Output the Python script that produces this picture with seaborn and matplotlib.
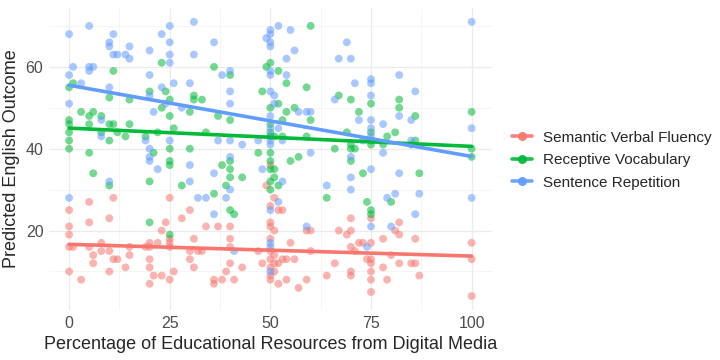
import matplotlib
matplotlib.use("Agg")
import matplotlib.pyplot as plt
from matplotlib.lines import Line2D
from matplotlib.ticker import MultipleLocator
import seaborn as sns
import pandas as pd

# points: (digital media %, predicted outcome)
svf_x = [11, 0, 5, 5, 10, 0, 0, 0, 1, 5, 8, 8, 6, 6, 10, 10, 11, 12, 15, 15, 14, 0, 3,
         20, 20, 19, 22, 20, 20, 20, 21, 23, 25, 24, 23, 25, 25, 25, 28, 30, 30, 30, 31, 32, 31, 26, 25,
         49, 50, 51, 50, 52, 53, 34, 37, 40, 50, 50, 51, 59, 60, 67, 40, 50, 55, 40, 33, 47, 50, 51, 60,
         50, 50, 51, 52, 53, 54, 56, 40, 43, 48, 39, 51, 36, 36, 38, 41, 50, 50, 52, 54, 57, 59, 66, 64,
         70, 75, 82, 70, 69, 81, 82, 78, 86, 100, 72, 73, 75, 70, 71, 80, 74, 75, 75, 78, 82, 85, 86,
         100, 70, 70, 75, 87, 75, 79, 75, 100]
svf_y = [28, 25, 27, 22, 23, 21, 19, 16, 16, 16, 17, 15, 14, 12, 15, 10, 13, 13, 16, 14, 11, 10, 8,
         17, 16, 16, 17, 13, 11, 7, 9, 9, 28, 22, 20, 18, 17, 16, 23, 25, 15, 13, 18, 15, 11, 10, 8,
         31, 36, 28, 26, 25, 25, 21, 21, 21, 22, 21, 20, 20, 20, 20, 18, 18, 17, 16, 15, 15, 15, 14, 15,
         13, 11, 12, 12, 13, 13, 13, 12, 11, 12, 10, 10, 8, 7, 8, 8, 8, 9, 7, 8, 6, 8, 12, 9,
         23, 23, 22, 20, 19, 20, 19, 18, 18, 17, 17, 17, 17, 16, 15, 14, 13, 13, 12, 11, 12, 12, 12,
         13, 10, 9, 10, 9, 8, 8, 5, 4]

rv_x = [23, 11, 1, 0, 20, 24, 10, 15, 25, 31, 31, 33, 23, 3, 5, 6, 8, 25, 30, 0, 0, 5, 10, 11, 15,
        26, 0, 8, 12, 14, 19, 22, 10, 0, 0, 5, 21, 25, 30,
        60, 36, 49, 50, 52, 40, 54, 48, 59, 52, 50, 54, 56, 37, 40, 53, 60, 50, 50, 50, 51, 34, 53, 59,
        47, 50, 57, 55, 66,
        67, 70, 75, 82, 82, 72, 86, 100, 69, 79, 81, 75, 75, 75, 70, 70, 71, 78, 85, 86, 100, 100,
        70, 73, 87, 74, 75, 75, 80,
        6, 10, 20, 25, 25, 28, 20, 25,
        38, 40, 40, 40, 43, 50, 50, 51, 50, 51, 52, 50, 39, 36, 40, 41, 64]
rv_y = [61, 59, 56, 55, 54, 54, 52.5, 52, 52, 53, 52, 52, 50, 49, 48, 49, 48, 48, 49, 47, 46, 46, 46, 46, 46,
        45, 44, 44, 44, 43, 43, 44, 42, 42, 40, 39, 39, 40, 40,
        70, 60, 60, 61, 59, 58, 56, 54, 55, 51, 50, 49, 50, 48, 47, 47, 47, 46, 44, 43, 43, 44, 43, 43,
        39, 39, 38, 37, 40,
        53, 52, 51, 52, 50, 49, 48, 49, 44, 43, 44, 44, 42, 41, 41, 40, 40, 41, 41, 42, 40, 38,
        37, 34, 34, 27, 25, 24, 27,
        34, 31, 32, 37, 36, 31, 22, 19,
        36, 37, 35, 33, 33, 37, 35, 35, 32, 33, 31, 30, 31, 29, 25, 24, 28]

sr_x = [5, 0, 11, 10, 10, 15, 11, 12, 14, 15, 20, 23, 25, 25, 25, 25, 31, 31, 1, 5, 6, 5, 0, 3, 20,
        26, 30, 10, 0, 20, 23, 21, 24, 28, 8, 8, 19, 20, 20, 20, 25,
        50, 50, 49, 50, 50, 52, 55, 36, 56, 54, 50, 50, 38, 40, 54, 40, 40, 50, 51, 51, 57, 59, 60, 50,
        66, 67, 50, 52, 37, 40, 43, 47, 50, 50, 50, 53, 40, 60,
        100, 69, 70, 82, 71, 75, 75, 75, 86, 72, 75, 82, 85, 75, 78, 100, 73, 75, 70, 78, 85,
        75, 82, 70, 70, 79, 81, 87, 100, 86, 75, 80, 74,
        0, 10, 22, 30, 30, 32,
        48, 36, 40, 34, 39, 36, 50, 52, 53, 64, 59, 41, 50, 50, 50]
sr_y = [70, 68, 68, 66, 65, 65, 63, 63, 63, 62, 64, 68, 70, 66, 63, 61, 71, 63, 60, 60, 60, 59, 58, 56, 58,
        56, 56, 55, 51, 53, 55, 49, 51, 50, 47, 43, 42, 40, 38, 37, 42,
        69, 68, 67, 66, 65, 70, 69, 66, 64, 62, 59, 58, 58, 59, 58, 54, 51, 54, 53, 51, 49, 49, 49, 48,
        52, 62, 45, 45, 42, 42, 41, 42, 43, 42, 41, 42, 38, 39,
        71, 66, 62, 58, 56, 57, 56, 53, 54, 47, 47, 48, 47, 45, 46, 45, 42, 43, 38, 39, 42,
        35, 34, 33, 30, 28, 29, 29, 28, 24, 21, 21, 16,
        28, 32, 35, 36, 32, 28,
        35, 34, 30, 28, 28, 24, 25, 27, 32, 31, 21, 15, 17, 16, 10]

measures = ["Semantic Verbal Fluency", "Receptive Vocabulary", "Sentence Repetition"]
colors = ["#F8766D", "#00BA38", "#619CFF"]

df = pd.concat([
    pd.DataFrame({"pct": svf_x, "score": svf_y, "measure": measures[0]}),
    pd.DataFrame({"pct": rv_x, "score": rv_y, "measure": measures[1]}),
    pd.DataFrame({"pct": sr_x, "score": sr_y, "measure": measures[2]}),
])

sns.set_style("white")
plt.rcParams["font.family"] = ["Liberation Sans", "DejaVu Sans"]

fig = plt.figure(figsize=(7.2, 3.6), dpi=100)
ax = fig.add_axes([0.068, 0.139, 0.615, 0.839])

sns.scatterplot(data=df, x="pct", y="score", hue="measure", hue_order=measures,
                palette=colors, s=32, alpha=0.55, edgecolor="none", legend=False, ax=ax)
for m, c in zip(measures, colors):
    sns.regplot(data=df[df.measure == m], x="pct", y="score", scatter=False, ci=None,
                color=c, line_kws={"lw": 2.6}, ax=ax)

ax.set_xlim(-5, 105)
ax.set_ylim(0.6, 74.4)
ax.set_xticks([0, 25, 50, 75, 100])
ax.set_yticks([20, 40, 60])
ax.xaxis.set_minor_locator(MultipleLocator(12.5))
ax.yaxis.set_minor_locator(MultipleLocator(10))
ax.grid(which="major", color="#EBEBEB", lw=0.9)
ax.grid(which="minor", color="#F2F2F2", lw=0.5)
ax.set_axisbelow(True)
for s in ax.spines.values():
    s.set_visible(False)
ax.tick_params(which="both", length=0, labelsize=11.5, labelcolor="#4D4D4D", pad=4)
ax.set_xlabel("Percentage of Educational Resources from Digital Media", fontsize=13)
ax.set_ylabel("Predicted English Outcome", fontsize=13)

handles = [Line2D([0], [0], color=c, lw=2.6, marker="o", markersize=5.5, alpha=0.9) for c in colors]
fig.legend(handles, measures, loc="center left", bbox_to_anchor=(0.692, 0.555),
           frameon=False, fontsize=11, handlelength=1.3, handletextpad=0.7, labelspacing=0.55)

fig.savefig("out.png", dpi=100)
